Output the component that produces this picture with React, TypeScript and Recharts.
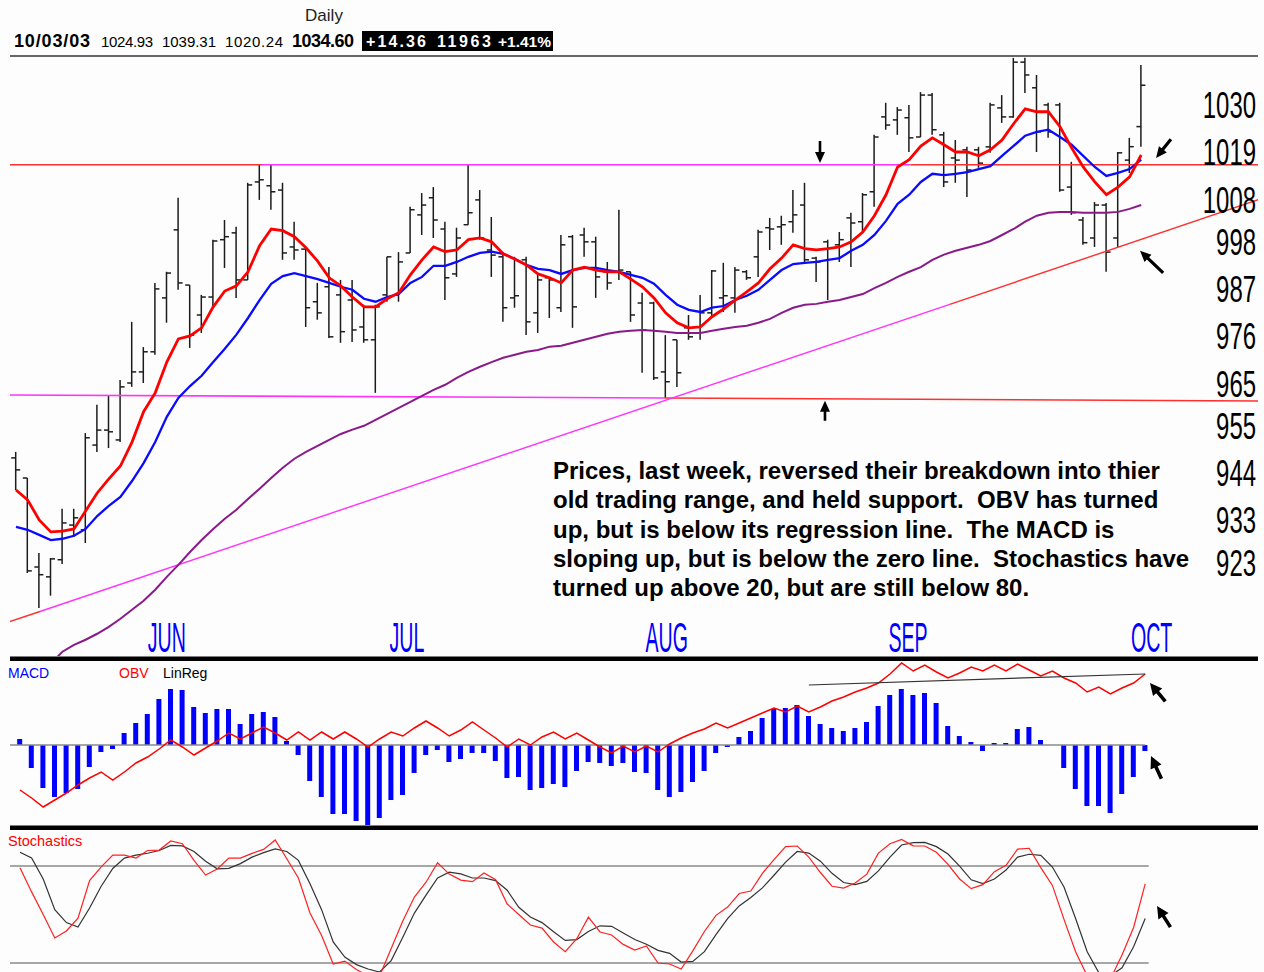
import React from "react";
import { Bar, ComposedChart, Line, ReferenceDot, ReferenceLine, XAxis, YAxis } from "recharts";

// S&P 500 daily bars, 16 May 2003 .. 3 Oct 2003 (98 sessions)
const opens = [
  947.5, 942.8, 922.0, 919.7, 923.7, 931.8, 930.7, 950.5, 954.0, 951.7,
  965.0, 967.6, 972.3, 984.9, 1000.8, 987.9, 980.9, 985.1, 998.5, 1000.1,
  989.1, 1012.0, 1011.1, 1010.1, 996.8, 996.3, 984.0, 987.5, 985.6, 984.4,
  978.1, 975.1, 985.6, 985.6, 995.4, 1004.3, 1008.3, 1001.0, 990.5, 1002.0,
  1007.8, 996.1, 994.5, 984.9, 993.8, 981.4, 989.6, 982.6, 999.2, 999.6,
  998.0, 991.0, 991.0, 991.0, 983.7, 983.7, 967.6, 975.1, 977.9, 978.1,
  981.4, 984.9, 984.9, 991.0, 994.5, 1001.3, 1001.5, 1002.7, 1006.6, 994.2,
  998.0, 997.3, 1003.6, 1002.7, 1009.7, 1027.2, 1026.5, 1027.0, 1022.5, 1032.3,
  1023.0, 1017.6, 1019.5, 1019.5, 1020.2, 1029.3, 1027.2, 1040.0, 1034.0, 1030.0,
  1030.0, 1010.8, 1003.1, 998.9, 1006.6, 998.9, 1017.1, 1024.93,
];
const highs = [
  948.9, 942.8, 925.3, 924.1, 935.6, 935.6, 953.3, 959.9, 962.2, 965.7,
  979.3, 973.4, 988.4, 991.0, 1008.3, 987.9, 985.6, 998.5, 1003.1, 1001.5,
  1011.8, 1016.0, 1016.0, 1011.8, 1002.7, 996.5, 988.4, 992.1, 989.1, 989.1,
  983.3, 983.3, 994.5, 995.6, 1006.2, 1009.4, 1010.8, 1002.7, 1001.3, 1016.0,
  1010.1, 1003.8, 995.6, 994.5, 994.5, 990.7, 989.8, 999.6, 999.6, 1001.3,
  999.2, 993.3, 1005.5, 991.0, 986.1, 984.0, 976.2, 975.1, 980.9, 985.6,
  991.4, 993.1, 992.1, 991.4, 1000.8, 1003.6, 1004.1, 1010.1, 1011.8, 994.5,
  998.5, 1000.3, 1004.8, 1009.4, 1023.0, 1030.5, 1029.5, 1030.0, 1033.0, 1032.8,
  1023.7, 1021.8, 1020.2, 1020.2, 1030.5, 1032.3, 1041.0, 1041.0, 1037.0, 1030.5,
  1030.5, 1016.7, 1003.8, 1007.3, 1007.1, 1019.0, 1022.3, 1039.31,
];
const lows = [
  940.0, 920.6, 912.4, 915.3, 922.7, 929.0, 927.6, 948.9, 949.8, 951.2,
  964.1, 965.0, 971.6, 979.1, 986.8, 973.2, 976.7, 982.8, 991.9, 984.9,
  989.1, 1007.8, 1005.5, 993.8, 993.8, 978.1, 979.8, 975.5, 974.4, 974.6,
  974.4, 962.7, 984.0, 984.0, 995.4, 999.6, 998.9, 984.4, 989.8, 1002.0,
  998.5, 989.8, 979.3, 982.6, 976.2, 976.7, 980.2, 981.6, 977.9, 994.5,
  984.9, 986.8, 989.1, 979.3, 967.4, 965.7, 961.5, 964.1, 975.1, 975.1,
  980.5, 981.6, 981.4, 989.1, 989.8, 996.1, 997.3, 1000.1, 993.3, 988.6,
  984.4, 993.3, 992.1, 1000.1, 1006.2, 1024.2, 1023.0, 1019.0, 1022.5, 1023.0,
  1010.8, 1011.8, 1008.5, 1015.3, 1018.8, 1025.8, 1027.0, 1032.8, 1019.0, 1022.3,
  1009.7, 1004.3, 997.3, 996.8, 991.0, 996.8, 1014.1, 1020.24,
];
const closes = [
  944.7, 921.1, 920.2, 923.9, 932.3, 933.5, 952.2, 954.0, 953.6, 964.1,
  967.6, 972.3, 987.0, 990.7, 988.4, 976.2, 985.1, 998.2, 999.2, 989.1,
  1011.3, 1012.5, 1009.7, 995.4, 996.1, 982.6, 981.4, 975.8, 977.0, 977.4,
  975.1, 982.8, 994.5, 993.3, 1005.5, 1006.6, 1003.1, 989.6, 998.9, 1004.8,
  998.9, 994.9, 982.6, 985.4, 979.3, 989.1, 989.1, 997.3, 982.8, 998.0,
  989.8, 988.4, 991.4, 980.9, 977.4, 966.2, 965.3, 967.4, 975.8, 981.4,
  991.2, 985.4, 991.4, 989.6, 1000.3, 1001.0, 1002.0, 1004.3, 993.8, 993.3,
  996.6, 998.5, 1002.4, 1009.0, 1022.5, 1025.3, 1028.8, 1022.3, 1032.3, 1024.2,
  1012.0, 1017.1, 1014.8, 1016.4, 1030.0, 1027.2, 1040.0, 1037.0, 1023.7, 1023.7,
  1010.1, 1004.8, 997.8, 1006.6, 995.6, 1018.8, 1020.24, 1034.6,
];

// moving averages (red, blue, purple)
const maFast = [
  940.0, 937.7, 933.0, 930.2, 930.4, 930.9, 935.1, 939.3, 942.6, 945.6,
  951.2, 958.3, 962.7, 969.9, 975.3, 976.0, 977.9, 982.8, 986.5, 987.7,
  991.0, 997.1, 1001.0, 1000.6, 999.2, 996.6, 993.5, 989.6, 987.7, 985.1,
  982.8, 982.8, 984.7, 986.1, 990.3, 993.8, 996.8, 995.7, 996.1, 998.5,
  998.9, 998.0, 995.2, 994.0, 992.6, 990.5, 989.6, 988.4, 991.4, 992.1,
  991.4, 991.0, 991.0, 989.3, 987.5, 984.9, 981.4, 979.1, 977.9, 978.1,
  980.5, 982.3, 984.4, 986.3, 988.4, 991.7, 994.2, 997.3, 996.4, 996.1,
  996.4, 996.8, 998.0, 1000.3, 1004.1, 1009.0, 1015.5, 1017.2, 1020.4, 1022.3,
  1020.7, 1019.0, 1019.0, 1018.1, 1019.5, 1021.8, 1025.6, 1029.1, 1028.4, 1028.4,
  1024.9, 1020.0, 1015.5, 1012.0, 1009.0, 1010.8, 1013.2, 1018.3,
];
const maMid = [
  931.4, 930.7, 929.5, 928.3, 928.6, 929.3, 930.9, 933.9, 936.3, 938.4,
  942.1, 946.3, 951.2, 957.1, 961.5, 964.3, 966.7, 969.9, 973.0, 976.3,
  980.2, 984.4, 988.2, 990.0, 990.7, 990.0, 989.3, 988.4, 987.5, 986.8,
  984.7, 984.0, 985.1, 985.8, 988.4, 989.8, 992.4, 992.4, 993.3, 994.5,
  995.4, 995.7, 995.2, 994.0, 992.6, 991.7, 991.4, 990.5, 991.4, 991.9,
  991.9, 991.4, 991.0, 990.3, 989.6, 988.2, 985.6, 983.3, 982.1, 981.6,
  982.6, 983.0, 984.4, 985.4, 986.8, 989.1, 991.4, 992.8, 993.1, 993.3,
  993.8, 994.2, 995.9, 997.3, 999.6, 1002.9, 1006.9, 1009.0, 1012.0, 1013.9,
  1013.6, 1013.9, 1014.3, 1015.0, 1015.7, 1018.1, 1020.4, 1022.8, 1023.7, 1024.2,
  1022.5, 1020.7, 1018.1, 1015.5, 1013.4, 1014.1, 1015.0, 1017.2,
];
const maSlow = [
  null, null, null, 899.4, 902.2, 903.8, 905.0, 906.4, 908.0, 909.9,
  912.0, 914.1, 916.7, 919.7, 922.5, 925.5, 928.3, 930.9, 933.3, 935.4,
  937.9, 940.3, 942.8, 945.2, 947.3, 948.9, 950.3, 951.7, 953.1, 954.1,
  955.0, 956.4, 957.8, 959.2, 960.6, 962.0, 963.4, 964.6, 966.2, 967.6,
  968.8, 969.9, 970.9, 971.6, 972.3, 972.7, 973.5, 973.7, 974.4, 975.1,
  975.8, 976.5, 977.0, 977.2, 977.4, 977.2, 977.0, 976.7, 976.7, 976.7,
  977.2, 977.7, 978.1, 978.4, 979.1, 980.0, 981.4, 982.6, 983.3, 983.5,
  984.0, 984.4, 985.1, 985.8, 987.2, 988.4, 989.8, 991.0, 992.1, 993.8,
  995.0, 995.9, 996.6, 997.3, 998.2, 999.6, 1001.0, 1002.7, 1004.1, 1004.8,
  1005.0, 1005.0, 1004.8, 1004.8, 1004.8, 1005.0, 1005.7, 1006.6,
];

const macdHist = [
  0.6, -2.3, -4.3, -5.2, -4.8, -4.4, -2.2, -0.7, -0.4, 1.2,
  2.2, 3.1, 4.6, 5.6, 5.5, 3.8, 3.2, 3.6, 3.6, 2.1,
  3.1, 3.3, 2.8, 0.4, -1.0, -3.6, -5.2, -6.9, -6.9, -7.6,
  -8.2, -7.3, -5.5, -5.0, -2.8, -1.0, -0.5, -1.7, -1.4, -0.8,
  -0.8, -1.6, -3.3, -3.2, -4.5, -4.3, -3.9, -4.2, -2.6, -1.7,
  -1.8, -2.1, -1.8, -2.7, -2.8, -4.5, -5.2, -4.7, -3.7, -2.6,
  -0.8, -0.2, 0.8, 1.4, 2.7, 3.6, 3.7, 4.0, 2.9, 2.1,
  1.7, 1.4, 1.7, 2.3, 3.9, 5.0, 5.6, 5.0, 5.2, 4.2,
  1.9, 0.9, 0.3, -0.6, 0.2, 0.2, 1.6, 1.8, 0.5, 0,
  -2.3, -4.4, -6.1, -6.1, -6.8, -4.9, -3.2, -0.6,
];
const obv = [
  -4.5, -5.3, -6.2, -5.5, -4.8, -4.0, -3.3, -2.7, -3.5, -2.7,
  -1.8, -1.2, -0.4, 0.5, -0.2, -1.0, -0.3, 0.4, 1.2, 0.6,
  1.2, 1.8, 1.2, 0.5, 1.3, 0.5, 1.3, 0.6, 1.3, 0.6,
  -0.2, 0.6, 1.3, 0.9, 1.7, 2.4, 1.7, 0.9, 1.5, 2.3,
  1.5, 0.7, -0.2, 0.6, 0.0, 0.8, 1.3, 0.6, 1.2, 0.5,
  -0.2, -0.8, -0.1, -0.7, -0.1, -0.7, 0.1, 0.7, 1.2, 1.6,
  2.2, 1.7, 2.2, 2.7, 3.2, 3.7, 3.3, 3.9, 3.3, 3.8,
  4.4, 4.8, 5.3, 5.7, 6.2, 7.1, 8.2, 7.4, 8.0, 7.3,
  6.7, 7.2, 7.8, 7.4, 8.0, 7.4, 8.1, 7.5, 6.9, 7.4,
  6.7, 6.2, 5.3, 5.8, 5.1, 5.7, 6.2, 7.1,
];
const linRegEnds = [
  { k: 68, v: 6.0 },
  { k: 97, v: 7.1 },
];

const stochK = [
  79, 64, 50, 35.5, 39.8, 47.8, 71, 79.5, 86.8, 86.8,
  84.9, 89.6, 89.9, 95.5, 93.8, 83.5, 74.4, 78.2, 84.9, 84.9,
  87.8, 90.3, 96.1, 84.5, 72.6, 51, 37, 19.4, 21.2, 16,
  12, 12, 29, 46, 60.8, 70, 82, 75, 71.3, 70.3,
  75.7, 71.5, 56.5, 50, 43.5, 41.6, 33, 27, 35, 48.4,
  39.2, 37.3, 31.5, 28, 30.5, 20, 19.4, 16.3, 27.5, 39.5,
  49.5, 54.6, 63, 64.5, 75.5, 84, 92, 92.4, 85.5, 76,
  67.5, 66.4, 69.5, 75, 88, 93.8, 96.5, 92.5, 92.4, 88.5,
  81, 72, 66, 68.5, 76.5, 80.5, 90.5, 91, 79, 68,
  47, 27, 12, 8, 10, 25, 42, 69,
];
const stochD = [
  88.5, 85, 72, 53, 45, 42.3, 54, 67.5, 78.5, 84.9,
  86.7, 87.9, 89.6, 92.8, 92.5, 89, 83, 78.3, 78.6, 81.5,
  85.5, 88.3, 90.6, 89, 83.5, 69, 53, 33, 23.7, 19,
  16.3, 14.4, 21.5, 36, 50.9, 62, 72.6, 76.2, 75.1, 72.6,
  72.6, 71, 65, 54.5, 48.5, 45, 39.3, 34, 34.5, 39.5,
  43, 42.7, 38.5, 34.5, 31.6, 27.8, 26, 20.6, 21, 27,
  37.5, 47.5, 55.3, 60.5, 66.5, 74.3, 82.4, 89, 88, 83,
  75.5, 69.8, 68.5, 70.5, 77, 85.5, 93, 94.5, 94.6, 92,
  87.4, 80, 71.5, 69.1, 72, 77.5, 85.5, 87.3, 86.6, 79.4,
  67, 47.5, 27, 14, 12, 17, 30, 47.5,
];

const priceTicks = [1030, 1019, 1008, 998, 987, 976, 965, 955, 944, 933, 923];
const monthNames = ["JUN", "JUL", "AUG", "SEP", "OCT"];
const monthAt = [13, 33.7, 56.1, 76.9, 97.9];

// drawn lines: [start index, end index, start price, end price, colour]
const resistanceLine = [
  [-1, 21.2, 1016.0, 1016.0, "#ff3030"],
  [21.2, 77.1, 1016.0, 1016.0, "#ff33ff"],
  [77.1, 108, 1016.0, 1016.0, "#ff3030"],
];
const supportLine = [
  [-1, 55.9, 962.2, 961.5, "#ff33ff"],
  [55.9, 108, 961.5, 960.8, "#ff3030"],
];
const trendLine = [
  [-1, 2.07, 908.8, 911.6, "#ff3030"],
  [2.07, 80.5, 911.6, 983.4, "#ff33ff"],
  [80.5, 108, 983.4, 1008.7, "#ff3030"],
];

const priceRows = opens.map((o, i) => ({
  i,
  open: o,
  high: highs[i],
  low: lows[i],
  close: closes[i],
  fast: maFast[i],
  mid: maMid[i],
  slow: maSlow[i],
}));

const lowerRows = macdHist.map((m, k) => ({
  k,
  macd: m,
  obv: obv[k],
  linReg: linRegEnds.find((e) => e.k === k)?.v ?? null,
  pctK: stochK[k],
  pctD: stochD[k],
}));

const PRICE_X: [number, number] = [-0.517, 107.069];
const LOWER_X: [number, number] = [-0.862, 106.724];
const sans = "'Liberation Sans', Arial, sans-serif";

function OhlcBar(props: any) {
  const { x, y, width, height, payload } = props;
  if (!payload || x == null) return null;
  const cx = x + width / 2;
  const top = Math.min(y, y + height);
  const h = Math.abs(height);
  const span = payload.high - payload.low || 1;
  const yOf = (v: number) => top + ((payload.high - v) / span) * h;
  return (
    <g stroke="#1c1c1c" strokeWidth={1.5}>
      <line x1={cx} x2={cx} y1={top} y2={top + h} />
      <line x1={cx - 4.5} x2={cx} y1={yOf(payload.open)} y2={yOf(payload.open)} />
      <line x1={cx} x2={cx + 4.5} y1={yOf(payload.close)} y2={yOf(payload.close)} />
    </g>
  );
}

function PriceTick(props: any) {
  const { y, payload } = props;
  return (
    <text
      transform={`translate(1256,${y + 13.5}) scale(0.92,1.45)`}
      textAnchor="end"
      fontFamily={sans}
      fontSize={26}
      fill="#000"
    >
      {payload.value}
    </text>
  );
}

function MonthTick(props: any) {
  const { x, payload } = props;
  const idx = monthAt.indexOf(payload.value);
  return (
    <text
      transform={`translate(${x},596) scale(0.89,1.9)`}
      textAnchor="middle"
      fontFamily={sans}
      fontSize={22}
      fill="#0000ff"
    >
      {monthNames[idx]}
    </text>
  );
}

function arrow(dx: number, dy: number, len = 24, hl = 11, hw = 5.5, sw = 1.6) {
  return (props: any) => {
    const { cx, cy } = props;
    const n = Math.hypot(dx, dy);
    const ux = dx / n;
    const uy = dy / n;
    const px = -uy;
    const py = ux;
    const bx = cx + ux * hl;
    const by = cy + uy * hl;
    const tx = cx + ux * len;
    const ty = cy + uy * len;
    const pts = [
      [cx, cy],
      [bx + px * hw, by + py * hw],
      [bx + px * sw, by + py * sw],
      [tx + px * sw, ty + py * sw],
      [tx - px * sw, ty - py * sw],
      [bx - px * sw, by - py * sw],
      [bx - px * hw, by - py * hw],
    ];
    return <polygon points={pts.map((p) => p.join(",")).join(" ")} fill="#000" />;
  };
}

function segments(list: any[], width: number) {
  return list.map(([x1, x2, y1, y2, c], n) => (
    <ReferenceLine
      key={`${x1}-${n}`}
      segment={[
        { x: x1, y: y1 },
        { x: x2, y: y2 },
      ]}
      stroke={c}
      strokeWidth={width}
      ifOverflow="hidden"
    />
  ));
}

const noteLines = [
  "Prices, last week, reversed their breakdown into thier",
  "old trading range, and held support.  OBV has turned",
  "up, but is below its regression line.  The MACD is",
  "sloping up, but is below the zero line.  Stochastics have",
  "turned up above 20, but are still below 80.",
];

export default function App() {
  return (
    <div
      style={{
        position: "absolute",
        left: 0,
        top: 0,
        width: 1264,
        height: 972,
        overflow: "hidden",
        background: "#fcfdfc",
      }}
    >
      <div style={{ position: "absolute", left: 0, top: 56 }}>
        <ComposedChart width={1264} height={624} data={priceRows} margin={{ top: 1, right: 6, bottom: 24, left: 10 }}>
          <XAxis
            dataKey="i"
            type="number"
            domain={PRICE_X}
            allowDataOverflow
            ticks={monthAt}
            interval={0}
            tick={<MonthTick />}
            axisLine={false}
            tickLine={false}
            mirror
          />
          <YAxis
            orientation="right"
            mirror
            domain={[901.2, 1041.2]}
            allowDataOverflow
            ticks={priceTicks}
            interval={0}
            tick={<PriceTick />}
            axisLine={false}
            tickLine={false}
          />
          {segments(resistanceLine, 1.6)}
          {segments(supportLine, 1.6)}
          {segments(trendLine, 1.4)}
          <Line dataKey="slow" stroke="#8a1a8a" strokeWidth={2} dot={false} isAnimationActive={false} />
          <Bar
            dataKey={(d: any) => [d.low, d.high]}
            barSize={9}
            shape={<OhlcBar />}
            isAnimationActive={false}
          />
          <Line dataKey="mid" stroke="#0a0aff" strokeWidth={2.3} dot={false} isAnimationActive={false} />
          <Line dataKey="fast" stroke="#ff0000" strokeWidth={2.8} dot={false} isAnimationActive={false} />
          <ReferenceDot x={69.31} y={1016.45} r={0} shape={arrow(0, -1, 22, 11, 5, 1.3)} />
          <ReferenceDot x={69.74} y={960.83} r={0} shape={arrow(0, 1, 20, 11, 5, 1.3)} />
          <ReferenceDot x={98.28} y={1017.6} r={0} shape={arrow(15, -19, 24, 11, 5, 1.6)} />
          <ReferenceDot x={96.9} y={995.9} r={0} shape={arrow(24, 23, 32, 11, 5, 1.6)} />
        </ComposedChart>
      </div>

      <div style={{ position: "absolute", left: 0, top: 661 }}>
        <ComposedChart width={1264} height={164} data={lowerRows} margin={{ top: 0, right: 6, bottom: 0, left: 10 }}>
          <XAxis dataKey="k" type="number" domain={LOWER_X} allowDataOverflow hide />
          <YAxis domain={[-8.0, 8.4]} allowDataOverflow hide />
          <ReferenceLine
            segment={[
              { x: -0.862, y: 0 },
              { x: 97, y: 0 },
            ]}
            stroke="#8a8a8a"
            strokeWidth={1.5}
          />
          <Bar dataKey="macd" fill="#0000ff" barSize={5} isAnimationActive={false} />
          <Line dataKey="obv" stroke="#ff0000" strokeWidth={1.5} dot={false} isAnimationActive={false} />
          <Line dataKey="linReg" stroke="#333" strokeWidth={1.2} dot={false} connectNulls isAnimationActive={false} />
          <ReferenceDot x={97.41} y={6.2} r={0} shape={arrow(15, 18, 24, 12, 6, 1.8)} />
          <ReferenceDot x={97.5} y={-1.1} r={0} shape={arrow(11, 24, 25, 12, 6, 1.8)} />
        </ComposedChart>
      </div>

      <div style={{ position: "absolute", left: 0, top: 830 }}>
        <ComposedChart width={1264} height={142} data={lowerRows} margin={{ top: 0, right: 6, bottom: 0, left: 10 }}>
          <XAxis dataKey="k" type="number" domain={LOWER_X} allowDataOverflow hide />
          <YAxis domain={[14.43, 102.3]} allowDataOverflow hide />
          {[80, 20].map((lvl) => (
            <ReferenceLine
              key={lvl}
              segment={[
                { x: -0.862, y: lvl },
                { x: 97.3, y: lvl },
              ]}
              stroke="#8a8a8a"
              strokeWidth={1.5}
            />
          ))}
          <Line dataKey="pctD" stroke="#333" strokeWidth={1.2} dot={false} isAnimationActive={false} />
          <Line dataKey="pctK" stroke="#ff2020" strokeWidth={1.2} dot={false} isAnimationActive={false} />
          <ReferenceDot x={98.02} y={55.25} r={0} shape={arrow(14, 22, 25, 12, 6, 1.8)} />
        </ComposedChart>
      </div>

      <svg
        width={1264}
        height={972}
        style={{ position: "absolute", left: 0, top: 0, pointerEvents: "none" }}
      >
        <text x={324} y={21} textAnchor="middle" fontFamily={sans} fontSize={17} fill="#222">
          Daily
        </text>
        <g fontFamily={sans} fill="#000">
          <text x={14} y={47} fontWeight="bold" fontSize={18} textLength={76}>10/03/03</text>
          <text x={101} y={47} fontSize={15} textLength={52}>1024.93</text>
          <text x={162} y={47} fontSize={15} textLength={54}>1039.31</text>
          <text x={225} y={47} fontSize={15} textLength={58}>1020.24</text>
          <text x={292} y={47} fontWeight="bold" fontSize={18} textLength={62}>1034.60</text>
        </g>
        <rect x={362} y={31} width={191} height={20} fill="#000" />
        <g fontFamily={sans} fill="#fff" fontWeight="bold" fontSize={16}>
          <text x={366} y={47} textLength={60}>+14.36</text>
          <text x={437} y={47} textLength={54}>11963</text>
          <text x={498} y={47} fontSize={15.5}>+1.41%</text>
        </g>
        <rect x={10} y={55} width={1248} height={2} fill="#666" />
        <rect x={10} y={656.5} width={1248} height={4.5} fill="#000" />
        <rect x={10} y={825.5} width={1248} height={4.5} fill="#000" />

        <g fontFamily={sans} fontWeight="bold" fontSize={24} fill="#000">
          {noteLines.map((t, n) => (
            <text key={n} x={553} y={479 + n * 29.3} style={{ whiteSpace: "pre" }}>
              {t}
            </text>
          ))}
        </g>

        <g fontFamily={sans} fontSize={14}>
          <text x={8} y={678} fill="#0000ff">MACD</text>
          <text x={119} y={678} fill="#ff0000">OBV</text>
          <text x={163} y={678} fill="#000">LinReg</text>
          <text x={8} y={846} fill="#ff0000" fontSize={14.5}>Stochastics</text>
        </g>
      </svg>
    </div>
  );
}
